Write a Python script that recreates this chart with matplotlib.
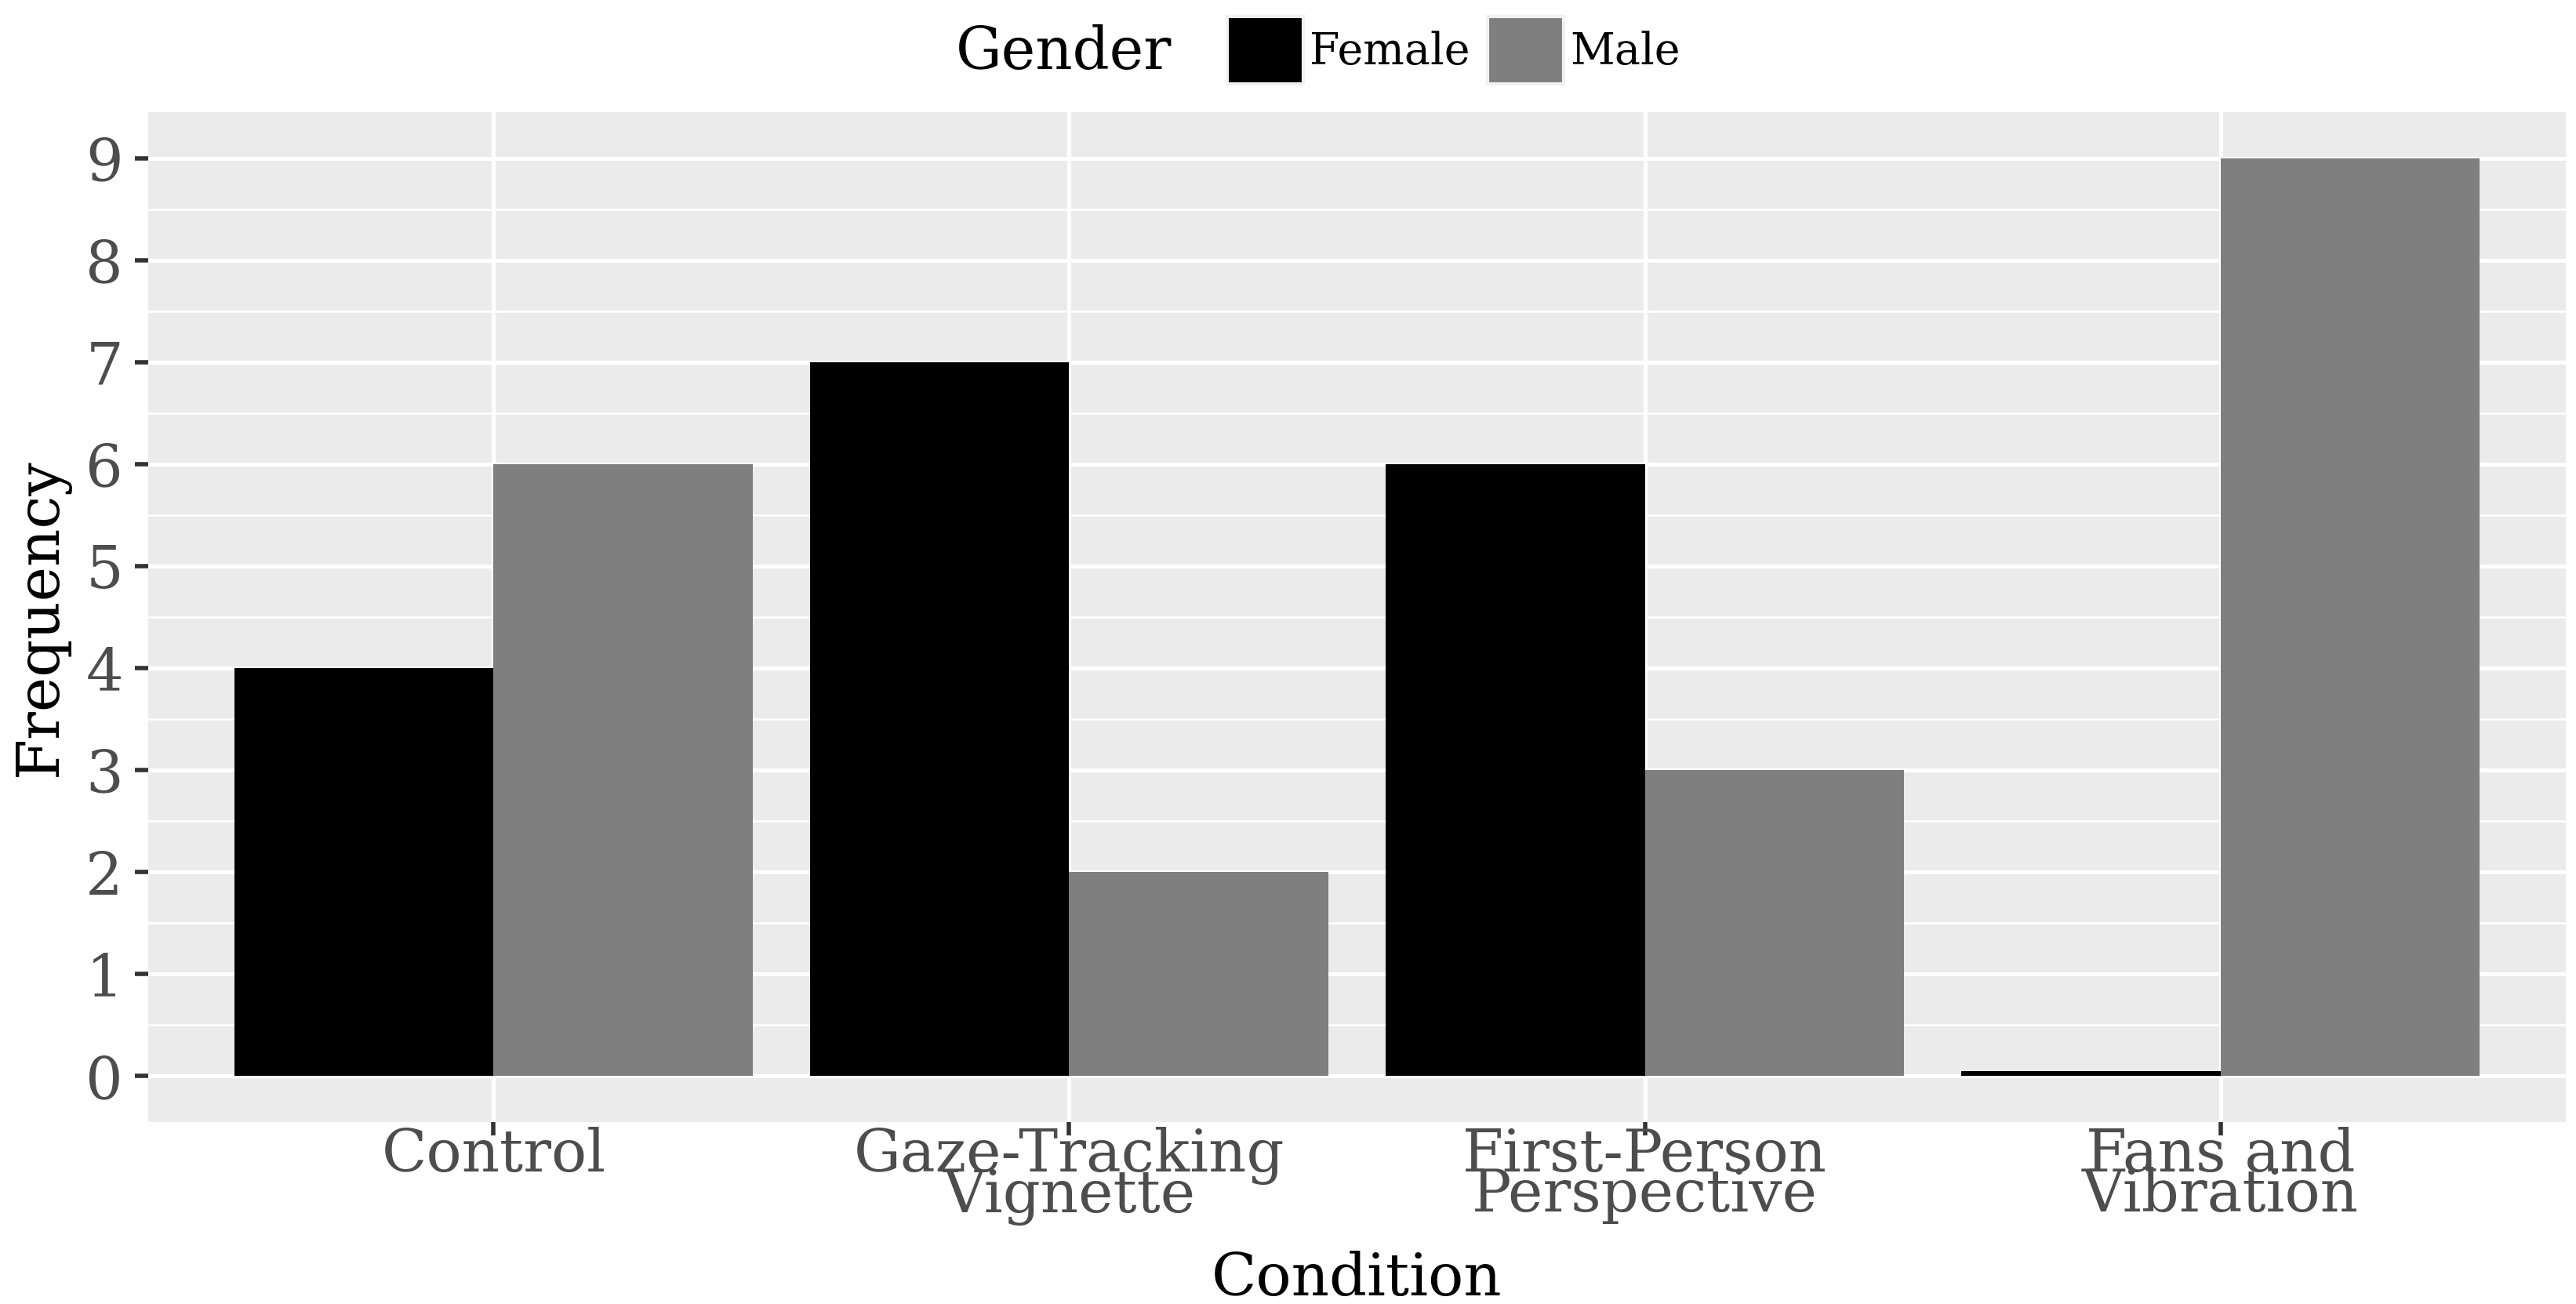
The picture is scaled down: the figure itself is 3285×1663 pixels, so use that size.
import numpy as np
import matplotlib
matplotlib.use('Agg')
import matplotlib.pyplot as plt
from matplotlib.patches import Patch
from matplotlib.ticker import MultipleLocator

# data
conditions = ['Control', 'Gaze-Tracking\nVignette', 'First-Person\nPerspective', 'Fans and\nVibration']
female = [4, 7, 6, 0.05]
male = [6, 2, 3, 9]
genders = ['Female', 'Male']
colors = ['#000000', '#7F7F7F']

plt.rcParams['font.family'] = ['DejaVu Serif']

W, H = 3285, 1663
fig = plt.figure(figsize=(W / 100, H / 100), dpi=100)
ax = fig.add_axes([189 / W, 1 - 1431 / H, (3272 - 189) / W, (1431 - 143) / H])

x = np.arange(1, len(conditions) + 1)
bw = 0.45
ax.bar(x - bw / 2, female, bw, color=colors[0], zorder=3)
ax.bar(x + bw / 2, male, bw, color=colors[1], zorder=3)

ax.set_facecolor('#EBEBEB')
for s in ax.spines.values():
    s.set_visible(False)
ax.set_xlim(0.4, 4.6)
ax.set_ylim(-0.45, 9.45)
ax.yaxis.set_major_locator(MultipleLocator(1))
ax.yaxis.set_minor_locator(MultipleLocator(0.5))
ax.set_xticks(x)
ax.set_xticklabels(conditions, linespacing=0.62)
ax.grid(True, which='major', color='white', linewidth=3.6, zorder=1)
ax.grid(True, which='minor', axis='y', color='white', linewidth=1.8, zorder=1)
ax.set_axisbelow(True)
ax.tick_params(which='minor', length=0)
ax.tick_params(which='major', length=12, width=4, color='#333333',
               labelcolor='#4D4D4D', labelsize=54)
ax.tick_params(axis='y', pad=11)
ax.tick_params(axis='x', pad=-8)

fig.text(1730 / W, 1 - 1652 / H, 'Condition', ha='center', va='baseline',
         fontsize=54, color='black')
fig.text(52 / W, 1 - 787 / H, 'Frequency', ha='center', va='center',
         rotation=90, fontsize=54, color='black')

# legend on top
fig.text(1219 / W, 1 - 88 / H, 'Gender', ha='left', va='baseline', fontsize=53)
handles = [Patch(facecolor=c, edgecolor='#F2F2F2', linewidth=3) for c in colors]
fig.legend(handles, genders, loc='center left', bbox_to_anchor=(1537 / W, 1 - 64 / H),
           ncol=2, frameon=False, fontsize=40, borderpad=0, handlelength=1.75,
           handleheight=2.0, handletextpad=0.15, columnspacing=0.4)

fig.savefig('out.png', dpi=100)
